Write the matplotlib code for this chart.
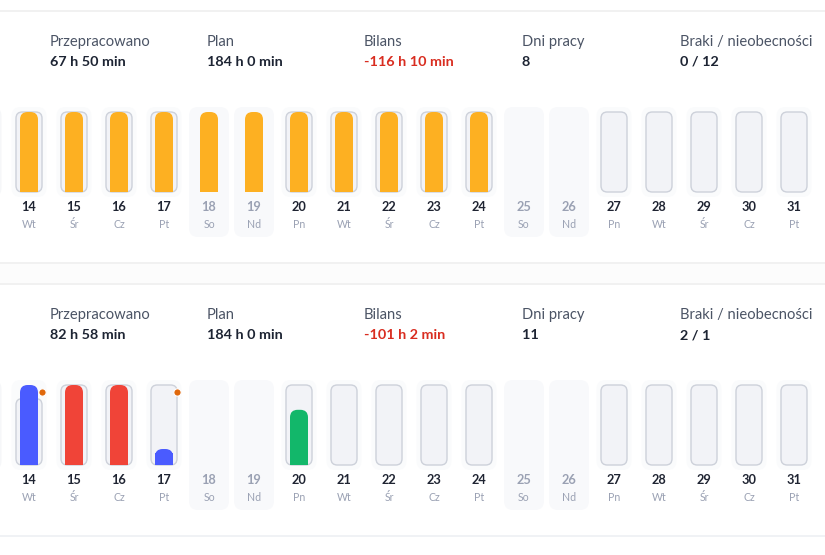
import matplotlib
matplotlib.use("Agg")
import matplotlib.pyplot as plt
from matplotlib.patches import FancyBboxPatch, Rectangle
from matplotlib.lines import Line2D
import matplotlib.transforms as mtransforms

plt.rcParams['font.family'] = ['Lato', 'DejaVu Sans']

# dane
days = list(range(14, 32))
weekdays = ["Wt", "Śr", "Cz", "Pt", "So", "Nd",
            "Pn", "Wt", "Śr", "Cz", "Pt", "So", "Nd",
            "Pn", "Wt", "Śr", "Cz", "Pt"]
weekend = ["So", "Nd"]

header_labels = ["Przepracowano", "Plan", "Bilans", "Dni pracy", "Braki / nieobecności"]
top_values = ["67 h 50 min", "184 h 0 min", "-116 h 10 min", "8", "0 / 12"]
bottom_values = ["82 h 58 min", "184 h 0 min", "-101 h 2 min", "11", "2 / 1"]

# miesiąc 1: dni 14-24 pełne (pomarańczowe)
top_bars = [1, 1, 1, 1, 1, 1, 1, 1, 1, 1, 1, 0, 0, 0, 0, 0, 0, 0]
top_colors = ["#fdb022"] * len(days)

# miesiąc 2
bottom_bars = [1.0, 1.0, 1.0, 0.2, 0, 0, 0.69, 0, 0, 0, 0, 0, 0, 0, 0, 0, 0, 0]
bottom_colors = ["#4a5bff", "#f04438", "#f04438", "#4a5bff", "#4a5bff", "#4a5bff",
                 "#12b76a", "#4a5bff", "#4a5bff", "#4a5bff", "#4a5bff", "#4a5bff", "#4a5bff",
                 "#4a5bff", "#4a5bff", "#4a5bff", "#4a5bff", "#4a5bff"]
bottom_track = [0.83, 1, 1, 1, 1, 1, 1, 1, 1, 1, 1, 1, 1, 1, 1, 1, 1, 1]
bottom_dots = [14, 17]

W, H = 825, 555
fig = plt.figure(figsize=(W / 100, H / 100), dpi=100)
fig.patch.set_facecolor("white")

ASP = 45 / 80  # proporcja px: 1 dzień = 45 px, 1 jednostka = 80 px


def rbox(ax, x0, y0, w, h, r, **kw):
    p = FancyBboxPatch((x0, y0), w, h, boxstyle=f"round,pad=0,rounding_size={r}",
                       mutation_aspect=ASP, **kw)
    ax.add_patch(p)
    return p


def panel(top_px, values, colors, track, dots, bars):
    ax = fig.add_axes([0, (H - top_px - 252) / H, 1, 252 / H])
    ax.set_xlim(14 - 29 / 45, 14 - 29 / 45 + W / 45)
    ax.set_ylim(-0.8875, 2.2625)
    ax.axis("off")

    # lewy brzeg: skrawek karty poprzedniego dnia
    rbox(ax, 13 - 0.389, -0.0625, 0.778, 1.125, 0.2, facecolor="#f6f7f9",
         edgecolor="none", zorder=1)

    trans = mtransforms.blended_transform_factory(ax.transAxes, ax.transData)
    xs = [50, 207, 364, 522, 680]
    for i, (lab, val) in enumerate(zip(header_labels, values)):
        ax.text(xs[i] / W, 1.875, lab, transform=trans, fontsize=10.6, color="#4b5465",
                va="center", ha="left")
        ax.text(xs[i] / W, 1.625, val, transform=trans, fontsize=10.4, fontweight="bold",
                color="#d92d20" if lab == "Bilans" else "#1d2433", va="center", ha="left")

    for d, wd, b, c, t in zip(days, weekdays, bars, colors, track):
        is_we = wd in weekend
        if is_we:
            rbox(ax, d - 0.444, -0.5625, 0.888, 1.625, 0.2, facecolor="#f8f9fb",
                 edgecolor="none", zorder=1)
        else:
            rbox(ax, d - 0.389, -0.0625, 0.778, 1.125, 0.2, facecolor="#fafbfc",
                 edgecolor="none", zorder=1)
            rbox(ax, d - 0.289, 0, 0.578, t, 0.14, facecolor="#f2f3f7",
                 edgecolor="#cdd1da", linewidth=1, zorder=2)
        if b > 0:
            rbox(ax, d - 0.2, 0, 0.4, b, 0.17, facecolor=c, edgecolor="none", zorder=3)
            ax.add_patch(Rectangle((d - 0.2, 0), 0.4, min(b, 0.15), facecolor=c,
                                   edgecolor="none", zorder=3))
        ax.text(d, -0.19, str(d), fontsize=9.2, fontweight="bold", ha="center", va="center",
                color="#9aa1b3" if is_we else "#1f2432", zorder=4)
        ax.text(d, -0.405, wd, fontsize=7.6, ha="center", va="center", color="#9aa1b3", zorder=4)

    for d in dots:
        ax.scatter([d + 0.289], [0.9125], s=28, color="#e0680b", edgecolors="white",
                   linewidths=0.8, zorder=5)
    return ax


panel(11, top_values, top_colors, [1] * len(days), [], top_bars)
panel(284, bottom_values, bottom_colors, bottom_track, bottom_dots, bottom_bars)

# separatory
fig.patches.append(Rectangle((0, (H - 284) / H), 1, 21 / H, transform=fig.transFigure,
                             facecolor="#fcfcfc", edgecolor="none", zorder=0))
for y, c in [(11, "#efefef"), (263, "#efefef"), (284, "#efefef"), (536, "#eef0f4")]:
    fig.add_artist(Line2D([0, 1], [(H - y) / H] * 2, transform=fig.transFigure,
                          color=c, linewidth=1.2))

fig.savefig("out.png", dpi=100, facecolor="white")
